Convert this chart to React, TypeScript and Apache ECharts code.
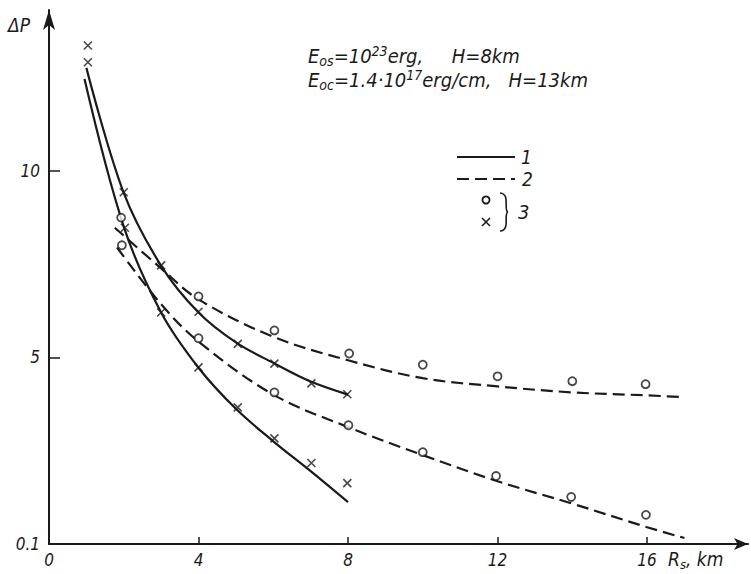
import React, { useEffect, useRef } from "react";
import * as echarts from "echarts";

// x ticks / y ticks
const xTicks = [0, 4, 8, 12, 16];
const yTickLabels: Record<number, string> = { 0: "0.1", 5: "5", 10: "10" };

// curve 1 (solid) – two branches
const solidUpper: [number, number][] = [
  [1.0, 12.75], [2, 9.4], [3, 7.45], [4, 6.2], [5, 5.4], [6, 4.85], [7, 4.35], [8, 4.0],
];
const solidLower: [number, number][] = [
  [0.95, 12.45], [2, 8.5], [3, 6.2], [4, 4.72], [5, 3.62], [6, 2.75], [7, 1.95], [8, 1.12],
];
// curve 2 (dashed) – two branches
const dashedUpper: [number, number][] = [
  [1.76, 8.47], [3, 7.38], [4, 6.55], [6, 5.55], [8, 4.92], [10, 4.44], [12, 4.22], [14, 4.06], [16, 3.98], [17, 3.93],
];
const dashedLower: [number, number][] = [
  [1.82, 7.94], [3, 6.42], [4, 5.42], [6, 4.0], [8, 3.13], [10, 2.38], [12, 1.68], [14, 1.08], [16, 0.45], [17, 0.16],
];
// measured points (3)
const crossPoints: [number, number][] = [
  [1.04, 13.35], [1.04, 12.9], [2.0, 9.42], [2.03, 8.47], [3.0, 7.46], [3.0, 6.2],
  [4.0, 6.22], [4.0, 4.73], [5.05, 5.36], [5.05, 3.66], [6.03, 4.83], [6.03, 2.83],
  [7.02, 4.3], [7.02, 2.17], [7.98, 4.01], [7.98, 1.63],
];
const circlePoints: [number, number][] = [
  [1.93, 8.74], [1.95, 8.0], [4.0, 6.63], [4.0, 5.51], [6.03, 5.72], [6.03, 4.06],
  [8.03, 5.1], [8.01, 3.18], [10.0, 4.8], [10.0, 2.46], [12.0, 4.49], [11.96, 1.82],
  [14.0, 4.36], [13.97, 1.26], [15.96, 4.28], [15.97, 0.78],
];

const FONT = "'Liberation Sans Narrow', 'DejaVu Sans Condensed', 'Liberation Sans', sans-serif";
const INK = "#1a1a1a";

export default function App() {
  const ref = useRef<HTMLDivElement>(null);
  useEffect(() => {
    if (!ref.current) return;
    const chart = echarts.init(ref.current, undefined, { renderer: "svg" });
    const crossSym = "path://M0,0L10,10M10,0L0,10";
    const lineSeries = (data: [number, number][], dashed: boolean) => ({
      type: "line",
      data,
      smooth: 0.35,
      showSymbol: false,
      symbol: "none",
      lineStyle: { color: INK, width: 2.2, type: dashed ? [12, 6] : "solid" },
      z: 2,
    });
    const rich = (size: number) => ({
      b: { font: `italic ${size}px ${FONT}`, fill: INK, lineHeight: 24, verticalAlign: "middle" },
      s: { font: `italic ${size - 6}px ${FONT}`, fill: INK, lineHeight: 24, verticalAlign: "bottom" },
      p: { font: `italic ${size - 6}px ${FONT}`, fill: INK, lineHeight: 24, verticalAlign: "top" },
    });
    chart.setOption({
      animation: false,
      backgroundColor: "#ffffff",
      grid: { left: 49, right: 3, top: 10, bottom: 30 },
      xAxis: {
        type: "value",
        min: 0,
        max: 18.7,
        interval: 4,
        axisLine: { show: true, symbol: ["none", "arrow"], symbolSize: [9, 14], lineStyle: { color: INK, width: 2 } },
        axisTick: { show: true, inside: true, length: 7, lineStyle: { color: INK, width: 1.5 } },
        axisLabel: {
          showMaxLabel: false,
          color: INK,
          fontFamily: FONT,
          fontStyle: "italic",
          fontSize: 17,
          margin: 7,
          formatter: (v: number) => (xTicks.includes(v) ? String(v) : ""),
        },
        splitLine: { show: false },
      },
      yAxis: {
        type: "value",
        min: 0,
        max: 14.3,
        interval: 5,
        axisLine: { show: true, symbol: ["none", "arrow"], symbolSize: [9, 20], lineStyle: { color: INK, width: 2 } },
        axisTick: { show: true, inside: true, length: 11, lineStyle: { color: INK, width: 1.5 } },
        axisLabel: {
          showMaxLabel: false,
          color: INK,
          fontFamily: FONT,
          fontStyle: "italic",
          fontSize: 17,
          margin: 9,
          formatter: (v: number) => yTickLabels[v] ?? "",
        },
        splitLine: { show: false },
      },
      series: [
        lineSeries(solidUpper, false),
        lineSeries(solidLower, false),
        lineSeries(dashedUpper, true),
        lineSeries(dashedLower, true),
        {
          type: "scatter",
          data: crossPoints,
          symbol: crossSym,
          symbolSize: 8,
          itemStyle: { color: "transparent", borderColor: INK, borderWidth: 1.6 },
          z: 3,
        },
        {
          type: "scatter",
          data: circlePoints,
          symbol: "circle",
          symbolSize: 8,
          itemStyle: { color: "#ffffff", borderColor: INK, borderWidth: 1.8 },
          z: 3,
        },
      ],
      graphic: [
        {
          type: "text",
          left: 8,
          top: 15,
          style: { text: "ΔP", font: `italic 19px ${FONT}`, fill: INK },
        },
        {
          type: "text",
          x: 668,
          y: 547,
          style: { text: "{b|R}{s|s}{b|, km}", fill: INK, rich: rich(19) },
        },
        {
          type: "text",
          x: 308,
          y: 44,
          style: { text: "{b|E}{s|os}{b|=10}{p|23}{b|erg,     H=8km}", fill: INK, rich: rich(20) },
        },
        {
          type: "text",
          x: 308,
          y: 68,
          style: { text: "{b|E}{s|oc}{b|=1.4·10}{p|17}{b|erg/cm,   H=13km}", fill: INK, rich: rich(20) },
        },
        // legend
        { type: "line", shape: { x1: 457, y1: 157, x2: 515, y2: 157 }, style: { stroke: INK, lineWidth: 2.2 } },
        { type: "text", x: 521, y: 147, style: { text: "1", font: `italic 19px ${FONT}`, fill: INK } },
        { type: "line", shape: { x1: 457, y1: 179, x2: 515, y2: 179 }, style: { stroke: INK, lineWidth: 2.2, lineDash: [12, 6] } },
        { type: "text", x: 522, y: 169, style: { text: "2", font: `italic 19px ${FONT}`, fill: INK } },
        { type: "circle", shape: { cx: 486, cy: 200, r: 3.6 }, style: { fill: "#fff", stroke: INK, lineWidth: 1.8 } },
        { type: "line", shape: { x1: 482, y1: 218, x2: 490, y2: 226 }, style: { stroke: INK, lineWidth: 1.6 } },
        { type: "line", shape: { x1: 490, y1: 218, x2: 482, y2: 226 }, style: { stroke: INK, lineWidth: 1.6 } },
        {
          type: "bezierCurve",
          shape: { x1: 500, y1: 193, x2: 508, y2: 212, cpx1: 511, cpy1: 194, cpx2: 503, cpy2: 211 },
          style: { stroke: INK, lineWidth: 1.6, fill: "none" },
        },
        {
          type: "bezierCurve",
          shape: { x1: 508, y1: 212, x2: 500, y2: 231, cpx1: 503, cpy1: 213, cpx2: 511, cpy2: 230 },
          style: { stroke: INK, lineWidth: 1.6, fill: "none" },
        },
        { type: "text", x: 518, y: 202, style: { text: "3", font: `italic 20px ${FONT}`, fill: INK } },
      ],
    });
    return () => chart.dispose();
  }, []);
  return (
    <div
      ref={ref}
      style={{ position: "absolute", left: 0, top: 0, width: 751, height: 574, background: "#fff" }}
    />
  );
}
